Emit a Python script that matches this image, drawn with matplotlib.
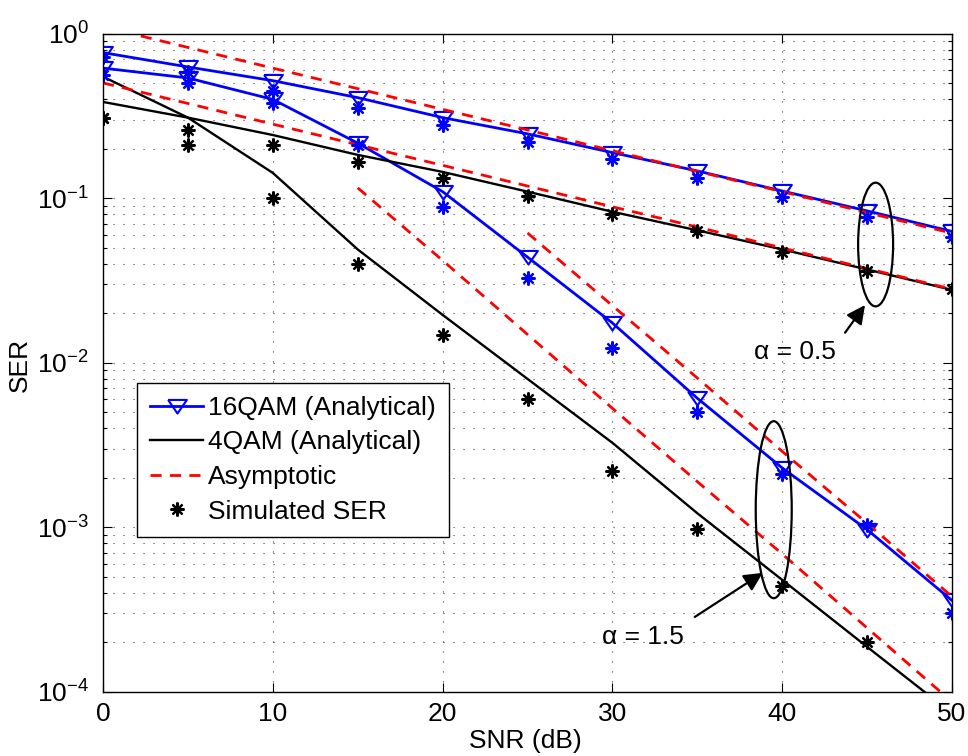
import numpy as np
import matplotlib
matplotlib.use('Agg')
import matplotlib.pyplot as plt
from matplotlib.patches import Ellipse
from matplotlib.lines import Line2D

# =========================
# Данные
# =========================
snr = [0, 5, 10, 15, 20, 25, 30, 35, 40, 45, 50]

# аналитические кривые
ser_16qam_a05 = [0.77, 0.63, 0.52, 0.41, 0.31, 0.247, 0.19, 0.147, 0.111, 0.084, 0.063]
ser_16qam_a15 = [0.62, 0.54, 0.40, 0.217, 0.11, 0.044, 0.0175, 0.0061, 0.0023, 0.00097, 0.00036]
ser_4qam_a05 = [0.386, 0.31, 0.243, 0.184, 0.145, 0.11, 0.083, 0.064, 0.049, 0.037, 0.0278]
ser_4qam_a15 = [0.55, 0.31, 0.143, 0.049, 0.0196, 0.0080, 0.00327, 0.00122, 0.00048, 0.000188, 0.000074]

# асимптотика
asym_16qam_a05 = [1.106, 0.828, 0.620, 0.465, 0.348, 0.261, 0.195, 0.146, 0.110, 0.082, 0.0615]
asym_4qam_a05 = [0.504, 0.378, 0.283, 0.212, 0.159, 0.119, 0.089, 0.067, 0.050, 0.0375, 0.0281]
snr_asym_16qam_a15 = [25, 30, 35, 40, 45, 50]
asym_16qam_a15 = [0.0617, 0.0223, 0.0081, 0.0029, 0.00106, 0.00038]
snr_asym_4qam_a15 = [15, 20, 25, 30, 35, 40, 45, 50]
asym_4qam_a15 = [0.116, 0.042, 0.0149, 0.0053, 0.0019, 0.00069, 0.000245, 0.000087]

# моделирование
sim_16qam_a05 = [0.72, 0.59, 0.45, 0.355, 0.28, 0.22, 0.174, 0.133, 0.102, 0.077, 0.058]
sim_16qam_a15 = [0.56, 0.50, 0.38, 0.21, 0.089, 0.033, 0.0123, 0.0050, 0.0021, 0.00104, 0.00030]
sim_4qam_a05 = [0.31, 0.26, 0.21, 0.167, 0.133, 0.104, 0.081, 0.063, 0.047, 0.036, 0.028]
snr_sim_4qam_a15 = [0, 5, 10, 15, 20, 25, 30, 35, 40, 45]
sim_4qam_a15 = [0.31, 0.21, 0.10, 0.040, 0.0148, 0.0060, 0.0022, 0.00098, 0.00044, 0.00020]

# =========================
# Оформление
# =========================
plt.rcParams['font.family'] = ['Liberation Sans', 'DejaVu Sans']
plt.rcParams['mathtext.fontset'] = 'custom'
plt.rcParams['mathtext.rm'] = 'Liberation Sans'
plt.rcParams['mathtext.default'] = 'regular'
FS = 19

BLUE = '#0000ff'
RED = '#ff0000'
tri = [(-1, 0.7), (1, 0.7), (0, -0.75), (-1, 0.7)]
star = (8, 2, 0)

fig = plt.figure(figsize=(9.68, 7.56), dpi=100)
ax = fig.add_axes([0.1064, 0.0847, 0.8771, 0.8704])

# аналитические
ax.plot(snr, ser_16qam_a05, color=BLUE, lw=2, marker=tri, ms=13.5, mfc='none', mew=1.5)
ax.plot(snr, ser_16qam_a15, color=BLUE, lw=2, marker=tri, ms=13.5, mfc='none', mew=1.5)
ax.plot(snr, ser_4qam_a05, color='k', lw=1.7)
ax.plot(snr, ser_4qam_a15, color='k', lw=1.7)

# асимптотика
dash = (0, (4, 3))
ax.plot(snr, asym_16qam_a05, color=RED, lw=2, ls=dash)
ax.plot(snr, asym_4qam_a05, color=RED, lw=2, ls=dash)
ax.plot(snr_asym_16qam_a15, asym_16qam_a15, color=RED, lw=2, ls=dash)
ax.plot(snr_asym_4qam_a15, asym_4qam_a15, color=RED, lw=2, ls=dash)

# моделирование
ax.plot(snr, sim_16qam_a05, ls='none', marker=star, ms=10, mew=1.6, color=BLUE)
ax.plot(snr, sim_16qam_a15, ls='none', marker=star, ms=10, mew=1.6, color=BLUE)
ax.plot(snr, sim_4qam_a05, ls='none', marker=star, ms=10, mew=1.6, color='k')
ax.plot(snr_sim_4qam_a15, sim_4qam_a15, ls='none', marker=star, ms=10, mew=1.6, color='k')

ax.set_yscale('log')
ax.set_xlim(0, 50)
ax.set_ylim(1e-4, 1)
ax.set_xticks([0, 10, 20, 30, 40, 50])
ax.set_yticks([1e-4, 1e-3, 1e-2, 1e-1, 1])

grid_ls = (0, (1, 8))
ax.grid(True, which='major', axis='both', color='0.25', ls=grid_ls, lw=0.8)
ax.grid(True, which='minor', axis='y', color='0.25', ls=grid_ls, lw=0.8)

ax.tick_params(which='both', direction='in', top=True, right=True, width=0.8, labelsize=FS)
ax.tick_params(which='major', length=6.5)
ax.tick_params(which='minor', length=3)
ax.tick_params(axis='y', pad=10)
ax.tick_params(axis='x', pad=7)
for s in ax.spines.values():
    s.set_linewidth(1.0)

ax.set_xlabel('SNR (dB)', fontsize=FS, va='center')
ax.set_ylabel('SER', fontsize=FS, va='center', ha='center')
ax.xaxis.set_label_coords(0.498, -0.075)
ax.yaxis.set_label_coords(-0.098, 0.497)

# легенда
handles = [
    Line2D([], [], color=BLUE, lw=2, marker=tri, ms=13.5, mfc='none', mew=1.5),
    Line2D([], [], color='k', lw=1.7),
    Line2D([], [], color=RED, lw=2, ls=dash),
    Line2D([], [], ls='none', marker=star, ms=10, mew=1.6, color='k'),
]
labels = ['16QAM (Analytical)', '4QAM (Analytical)', 'Asymptotic', 'Simulated SER']
leg = ax.legend(handles, labels, loc='upper left', bbox_to_anchor=(0.040, 0.470),
                borderaxespad=0, fontsize=FS, handlelength=2.0, handletextpad=0.2,
                labelspacing=0.4, borderpad=0.5, fancybox=False, framealpha=1,
                edgecolor='k')
leg.get_frame().set_linewidth(1.0)

# эллипсы и стрелки
ax.add_patch(Ellipse((0.910, 0.680), 0.0412, 0.188, transform=ax.transAxes,
                     fill=False, ec='k', lw=1.6, zorder=5))
ax.add_patch(Ellipse((0.790, 0.277), 0.0424, 0.269, transform=ax.transAxes,
                     fill=False, ec='k', lw=1.6, zorder=5))

arrow = dict(arrowstyle='-|>', mutation_scale=28, lw=1.6, color='k', shrinkA=0, shrinkB=0)
ax.annotate('', xy=(0.8975, 0.588), xytext=(0.874, 0.546), xycoords='axes fraction', arrowprops=arrow)
ax.annotate('', xy=(0.777, 0.181), xytext=(0.697, 0.114), xycoords='axes fraction', arrowprops=arrow)
ax.text(0.815, 0.517, '\u03b1 = 0.5', transform=ax.transAxes, fontsize=FS, ha='center', va='center')
ax.text(0.636, 0.0836, '\u03b1 = 1.5', transform=ax.transAxes, fontsize=FS, ha='center', va='center')

fig.savefig('out.png', dpi=100)
